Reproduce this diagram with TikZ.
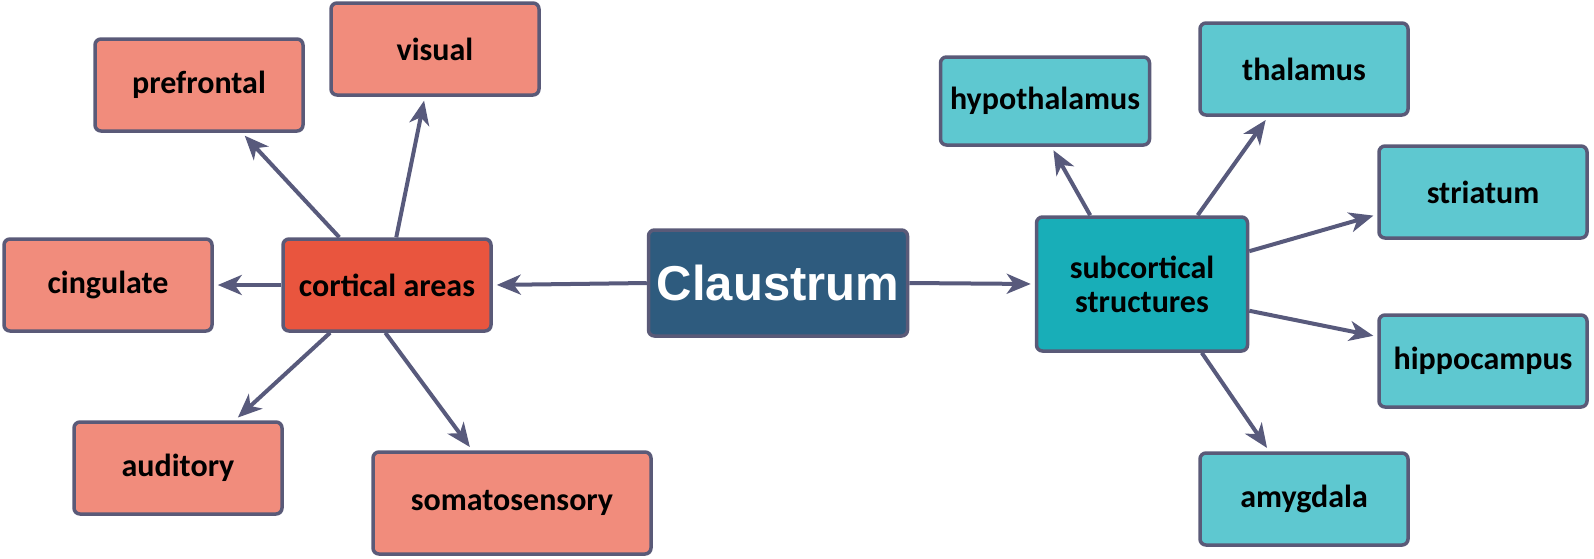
\documentclass[tikz,border=0pt]{standalone}
\usepackage{fontspec}
\setmainfont{Carlito}
\newfontfamily\headfont{Liberation Sans}
\usepackage{tikz}
\usetikzlibrary{arrows.meta, positioning, calc}
\definecolor{salmon}{RGB}{241,140,124}
\definecolor{cortred}{RGB}{233,85,62}
\definecolor{claudark}{RGB}{46,91,126}
\definecolor{subteal}{RGB}{24,174,184}
\definecolor{lightteal}{RGB}{94,200,208}
\definecolor{edgegray}{RGB}{90,90,120}
\definecolor{arrowgray}{RGB}{88,90,124}
\tikzset{%
	box/.style={draw=edgegray, line width=3.5pt, rectangle, rounded corners=6pt,%
		minimum width=208pt, minimum height=92pt, inner sep=0pt,%
		font=\fontsize{32}{38}\selectfont\bfseries, align=center},
	cortex/.style={box, fill=salmon},
	hub/.style={box, fill=cortred},
	sub/.style={box, fill=lightteal},
	subhub/.style={box, fill=subteal, minimum width=211pt, minimum height=134pt},
	core/.style={box, fill=claudark, text=white, minimum width=259pt, minimum height=106pt,%
		font=\fontsize{49}{56}\headfont\bfseries},
	sel/.style={-{Stealth[length=24pt, width=20pt, inset=7pt]}, line width=4pt,%
		draw=arrowgray, fill=arrowgray, shorten >=4pt}
}
\begin{document}
\begin{tikzpicture}[x=1pt, y=-1pt]
	\useasboundingbox (0,0) rectangle (1594,558);
	% centre
	\node[core] (claustrum) at (778,283) {Claustrum};
	% cortical side
	\node[hub] (cortical) at (387,285) {cortical areas};
	\node[cortex] (prefrontal) at (199,85) {prefrontal};
	\node[cortex] (visual) at (435,49) {visual};
	\node[cortex] (cingulate) at (108,285) {cingulate};
	\node[cortex] (auditory) at (178,468) {auditory};
	\node[cortex, minimum width=278pt, minimum height=102pt] (somato) at (512,503) {somatosensory};
	% subcortical side
	\node[subhub] (subcortical) at (1142,284) {subcortical\\[-4pt]structures};
	\node[sub, minimum width=209pt, minimum height=88pt] (hypothal) at (1045,101) {hypothalamus};
	\node[sub] (thalamus) at (1304,69) {thalamus};
	\node[sub] (striatum) at (1483,192) {striatum};
	\node[sub] (hippo) at (1483,361) {hippocampus};
	\node[sub] (amygdala) at (1304,499) {amygdala};

	\draw[sel] (claustrum.west) to (cortical.east);
	\draw[sel] (claustrum.east) to (subcortical.west);

	\draw[sel] (cortical.135) to (prefrontal.-48);
	\draw[sel] (cortical.79) to (visual.-102);
	\draw[sel] (cortical.west) to (cingulate.east);
	\draw[sel] (cortical.-140) to (auditory.40);
	\draw[sel] (cortical.-92) to (somato.127);

	\draw[sel] (subcortical.127) to (hypothal.-82);
	\draw[sel] (subcortical.51) to (thalamus.-127);
	\draw[sel] (subcortical.17) to (striatum.-168);
	\draw[sel] (subcortical.-14) to (hippo.167);
	\draw[sel] (subcortical.-49) to (amygdala.126);
\end{tikzpicture}
\end{document}
